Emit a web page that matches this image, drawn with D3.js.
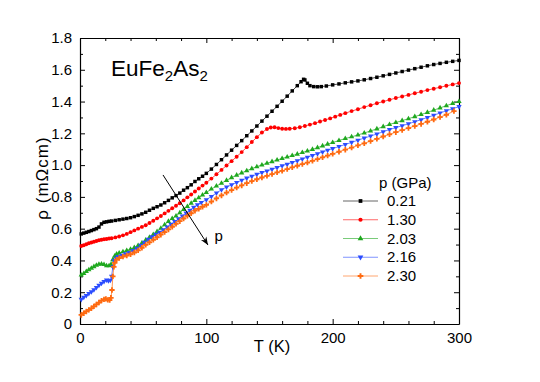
<!DOCTYPE html>
<html>
<head>
<meta charset="utf-8">
<script src="https://cdn.jsdelivr.net/npm/d3@7"></script>
<style>
  body { margin: 0; background: #fff; }
  svg { font-family: "Liberation Sans", Arial, sans-serif; }
</style>
</head>
<body>
<svg id="chart"></svg>
<script>
// pressure series: [T (K), rho (mOhm cm)]
const p021 = [[1,0.567],[3,0.572],[5,0.577],[7,0.582],[9,0.588],[11,0.594],[13,0.600],[15,0.610],[17,0.630],[19,0.640],[21,0.643],[23,0.646],[25,0.648],[28,0.652],[31,0.656],[34,0.660],[37,0.664],[40,0.669],[43,0.676],[46,0.684],[49,0.693],[52,0.703],[55,0.716],[58,0.728],[61,0.738],[64,0.749],[67,0.763],[70,0.778],[73,0.794],[76,0.808],[79,0.824],[82,0.842],[85,0.858],[88,0.876],[91,0.897],[94,0.914],[97,0.930],[100,0.948],[104,0.975],[108,1.004],[112,1.034],[116,1.064],[120,1.094],[124,1.124],[128,1.154],[132,1.185],[136,1.215],[140,1.246],[144,1.277],[148,1.308],[152,1.339],[156,1.370],[160,1.402],[164,1.434],[168,1.467],[172,1.500],[175,1.525],[177,1.540],[178,1.536],[180,1.515],[182,1.500],[185,1.494],[188,1.493],[191,1.494],[195,1.498],[200,1.505],[205,1.511],[210,1.518],[215,1.524],[220,1.530],[225,1.537],[230,1.545],[235,1.553],[240,1.562],[245,1.571],[250,1.580],[255,1.589],[260,1.598],[265,1.607],[270,1.616],[275,1.625],[280,1.633],[285,1.640],[290,1.647],[295,1.653],[300,1.659]];
const p130 = [[1,0.491],[3,0.496],[5,0.502],[7,0.508],[9,0.513],[11,0.518],[13,0.522],[15,0.527],[17,0.530],[19,0.533],[21,0.535],[23,0.538],[25,0.540],[28,0.545],[31,0.551],[34,0.558],[37,0.567],[40,0.578],[43,0.589],[46,0.600],[49,0.611],[52,0.622],[55,0.636],[58,0.650],[61,0.665],[64,0.680],[67,0.696],[70,0.712],[73,0.728],[76,0.744],[79,0.760],[82,0.778],[85,0.797],[88,0.815],[91,0.834],[94,0.853],[97,0.871],[100,0.889],[104,0.915],[108,0.942],[112,0.970],[116,0.998],[120,1.025],[124,1.053],[128,1.082],[132,1.113],[136,1.145],[140,1.176],[144,1.205],[148,1.227],[151,1.237],[154,1.238],[157,1.233],[160,1.229],[163,1.228],[166,1.229],[170,1.232],[174,1.238],[178,1.246],[182,1.255],[186,1.264],[190,1.274],[194,1.284],[198,1.294],[202,1.305],[206,1.316],[210,1.327],[215,1.340],[220,1.352],[225,1.365],[230,1.377],[235,1.389],[240,1.400],[245,1.411],[250,1.422],[255,1.432],[260,1.442],[265,1.452],[270,1.462],[275,1.472],[280,1.481],[285,1.490],[290,1.499],[295,1.508],[300,1.516]];
const p203 = [[1,0.308],[3,0.318],[5,0.330],[7,0.341],[9,0.351],[11,0.361],[13,0.370],[15,0.376],[17,0.378],[19,0.374],[21,0.366],[23,0.366],[24.5,0.375],[26,0.405],[27.5,0.428],[29,0.440],[31,0.447],[34,0.455],[37,0.462],[40,0.470],[43,0.481],[46,0.494],[49,0.510],[52,0.528],[55,0.545],[58,0.563],[61,0.582],[64,0.602],[67,0.624],[70,0.646],[73,0.664],[76,0.680],[79,0.700],[82,0.720],[85,0.740],[88,0.760],[91,0.778],[94,0.795],[97,0.812],[100,0.828],[104,0.849],[108,0.868],[112,0.886],[116,0.904],[120,0.921],[124,0.937],[128,0.951],[132,0.965],[136,0.978],[140,0.990],[144,1.001],[148,1.012],[152,1.022],[156,1.032],[160,1.042],[164,1.051],[168,1.060],[172,1.069],[176,1.079],[180,1.089],[184,1.099],[188,1.110],[192,1.121],[196,1.132],[200,1.142],[205,1.155],[210,1.167],[215,1.178],[220,1.190],[225,1.202],[230,1.215],[235,1.228],[240,1.242],[245,1.256],[250,1.268],[255,1.280],[260,1.292],[265,1.305],[270,1.318],[275,1.332],[280,1.346],[285,1.360],[290,1.374],[295,1.388],[300,1.400]];
const p216 = [[1,0.155],[3,0.168],[5,0.180],[7,0.192],[9,0.203],[11,0.216],[13,0.230],[15,0.244],[17,0.256],[19,0.268],[21,0.277],[22.5,0.272],[24,0.275],[25,0.300],[26,0.360],[27,0.400],[28.5,0.414],[30,0.424],[33,0.433],[36,0.442],[39,0.450],[42,0.462],[45,0.477],[48,0.495],[51,0.515],[54,0.533],[57,0.549],[60,0.564],[63,0.578],[66,0.593],[69,0.610],[72,0.628],[75,0.645],[78,0.662],[81,0.680],[84,0.698],[87,0.716],[90,0.734],[93,0.750],[96,0.765],[100,0.782],[104,0.803],[108,0.824],[112,0.845],[116,0.862],[120,0.876],[124,0.891],[128,0.905],[132,0.918],[136,0.930],[140,0.942],[144,0.953],[148,0.963],[152,0.974],[156,0.985],[160,0.996],[164,1.006],[168,1.017],[172,1.028],[176,1.039],[180,1.050],[184,1.061],[188,1.072],[192,1.083],[196,1.094],[200,1.104],[205,1.117],[210,1.130],[215,1.143],[220,1.157],[225,1.170],[230,1.183],[235,1.196],[240,1.210],[245,1.224],[250,1.236],[255,1.248],[260,1.260],[265,1.273],[270,1.286],[275,1.300],[280,1.314],[285,1.328],[290,1.342],[295,1.355],[300,1.368]];
const p230 = [[1,0.057],[3,0.068],[5,0.079],[7,0.089],[9,0.099],[11,0.111],[13,0.123],[15,0.135],[17,0.147],[19,0.155],[20.5,0.158],[22,0.152],[23.5,0.150],[24.5,0.165],[25.3,0.214],[26,0.300],[26.8,0.360],[27.5,0.385],[29,0.405],[31,0.415],[34,0.424],[37,0.431],[40,0.439],[43,0.450],[46,0.463],[49,0.480],[52,0.498],[55,0.514],[58,0.530],[61,0.546],[64,0.562],[67,0.578],[70,0.595],[73,0.612],[76,0.630],[79,0.647],[82,0.664],[85,0.681],[88,0.697],[91,0.713],[94,0.725],[97,0.738],[100,0.750],[104,0.770],[108,0.790],[112,0.809],[116,0.827],[120,0.843],[124,0.858],[128,0.872],[132,0.886],[136,0.899],[140,0.911],[144,0.922],[148,0.932],[152,0.943],[156,0.954],[160,0.964],[164,0.975],[168,0.986],[172,0.996],[176,1.006],[180,1.016],[184,1.027],[188,1.038],[192,1.049],[196,1.060],[200,1.071],[205,1.084],[210,1.097],[215,1.110],[220,1.124],[225,1.137],[230,1.151],[235,1.165],[240,1.180],[245,1.194],[250,1.207],[255,1.220],[260,1.233],[265,1.246],[270,1.259],[275,1.273],[280,1.287],[285,1.302],[290,1.317],[296,1.340]];

const pressures = ["0.21", "1.30", "2.03", "2.16", "2.30"];
const seriesData = [p021, p130, p203, p216, p230];
const colors = ["#000000", "#ff0000", "#1fa81f", "#2b4cff", "#ff6a10"];
const symbols = [d3.symbolSquare, d3.symbolCircle, d3.symbolTriangle, d3.symbolTriangle, d3.symbolCross];
const symbolRotate = [0, 0, 0, 180, 0];

const xTicks = [0, 100, 200, 300];
const yTicks = [0, 0.2, 0.4, 0.6, 0.8, 1.0, 1.2, 1.4, 1.6, 1.8];

const width = 540;
const height = 382;
const margin = {left: 80, right: 81, top: 38, bottom: 58};

const svg = d3.select('#chart')
    .attr('width', width)
    .attr('height', height);

const xScale = d3.scaleLinear()
    .domain([0, 300])
    .range([margin.left, width - margin.right]);

const yScale = d3.scaleLinear()
    .domain([0, 1.8])
    .range([height - margin.bottom, margin.top]);

const yFmt = d => d === 0 ? "0" : d3.format('.1f')(d);

// minor ticks first, then major ticks with labels (ticks point inward)
const drawAxis = (axisFn, scale, minorVals, majorVals, fmt, translate, showLabels) => {
    svg.append('g')
       .attr('transform', translate)
       .call(axisFn(scale).tickValues(minorVals).tickSize(-3).tickFormat(''))
       .call(g => g.select('.domain').remove());
    const g = svg.append('g')
       .attr('transform', translate)
       .call(axisFn(scale).tickValues(majorVals).tickSizeInner(-5).tickSizeOuter(0)
             .tickPadding(showLabels ? 8 : 0).tickFormat(showLabels ? fmt : ''));
    g.selectAll('text').attr('font-size', 15).attr('fill', '#000')
       .attr('font-family', '"Liberation Sans", Arial, sans-serif');
    g.select('.domain').attr('stroke-width', 1.2);
}

const xMinor = d3.range(20, 300, 20).filter(d => d % 100 !== 0);
const yMinor = d3.range(0.1, 1.8, 0.2);

drawAxis(d3.axisBottom, xScale, xMinor, xTicks, d3.format('d'), `translate(0,${height - margin.bottom})`, true);
drawAxis(d3.axisTop, xScale, xMinor, xTicks, d3.format('d'), `translate(0,${margin.top})`, false);
drawAxis(d3.axisLeft, yScale, yMinor, yTicks, yFmt, `translate(${margin.left},0)`, true);
drawAxis(d3.axisRight, yScale, yMinor, yTicks, yFmt, `translate(${width - margin.right},0)`, false);

// curves
const line = d3.line()
    .x(d => xScale(d[0]))
    .y(d => yScale(d[1]));

seriesData.forEach((data, i) => {
    svg.append('path')
       .datum(data)
       .attr('d', line)
       .attr('fill', 'none')
       .attr('stroke', colors[i])
       .attr('stroke-width', 1)
       .attr('stroke-opacity', 0.7);

    svg.append('g')
       .selectAll('path')
       .data(data)
       .enter()
       .append('path')
       .attr('d', d3.symbol().type(symbols[i]).size(i === 4 ? 16 : 12))
       .attr('transform', d => `translate(${xScale(d[0])},${yScale(d[1])}) rotate(${symbolRotate[i]})`)
       .attr('fill', colors[i]);
});

// title
const title = svg.append('text')
    .attr('x', 111)
    .attr('y', 76)
    .attr('font-size', 22.5)
    .attr('fill', '#000');
title.append('tspan').text('EuFe');
title.append('tspan').text('2').attr('font-size', 15).attr('dy', 5);
title.append('tspan').text('As').attr('dy', -5);
title.append('tspan').text('2').attr('font-size', 15).attr('dy', 5);

// axis titles
svg.append('text')
    .attr('x', 272)
    .attr('y', 352)
    .attr('text-anchor', 'middle')
    .attr('font-size', 16.5)
    .text('T (K)');

svg.append('text')
    .attr('transform', 'translate(48,178) rotate(-90)')
    .attr('text-anchor', 'middle')
    .attr('font-size', 17)
    .attr('letter-spacing', 1)
    .text('ρ (mΩcm)');

// pressure arrow
svg.append('defs').append('marker')
    .attr('id', 'arrowhead')
    .attr('viewBox', '0 0 10 10')
    .attr('refX', 10)
    .attr('refY', 5)
    .attr('markerWidth', 8)
    .attr('markerHeight', 8)
    .attr('orient', 'auto')
    .append('path')
    .attr('d', 'M0,1 L10,5 L0,9 L3,5 Z')
    .attr('fill', '#000');

svg.append('line')
    .attr('x1', xScale(65.7)).attr('y1', yScale(0.938))
    .attr('x2', xScale(101.3)).attr('y2', yScale(0.497))
    .attr('stroke', '#000')
    .attr('stroke-width', 1)
    .attr('marker-end', 'url(#arrowhead)');

svg.append('text')
    .attr('x', xScale(106.5))
    .attr('y', yScale(0.52))
    .attr('font-size', 15)
    .text('p');

// legend
const legend = svg.append('g');
legend.append('text')
    .attr('x', 379)
    .attr('y', 188)
    .attr('font-size', 15)
    .text('p (GPa)');

pressures.forEach((p, i) => {
    const cy = 201 + i * 18.75;
    legend.append('line')
        .attr('x1', 343).attr('x2', 378)
        .attr('y1', cy).attr('y2', cy)
        .attr('stroke', colors[i])
        .attr('stroke-opacity', 0.6)
        .attr('stroke-width', 1);
    legend.append('path')
        .attr('d', d3.symbol().type(symbols[i]).size(i === 4 ? 18 : 14))
        .attr('transform', `translate(360.5,${cy}) rotate(${symbolRotate[i]})`)
        .attr('fill', colors[i]);
    legend.append('text')
        .attr('x', 387)
        .attr('y', cy + 5)
        .attr('font-size', 15)
        .text(p);
});
</script>
</body>
</html>
